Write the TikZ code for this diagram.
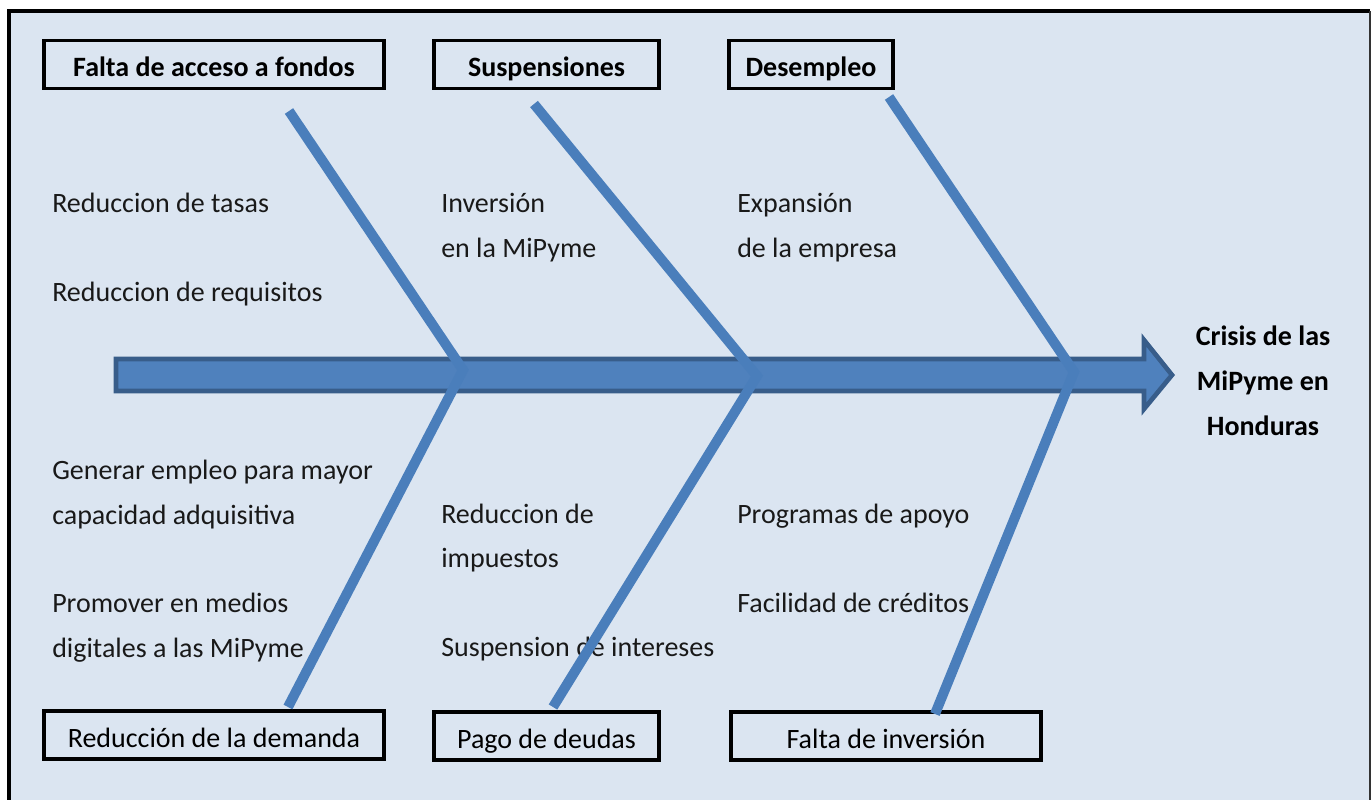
\documentclass[tikz,border=0pt]{standalone}
\usepackage{fontspec}
\setmainfont{Carlito}
\definecolor{bgblue}{HTML}{DBE5F1}
\definecolor{spinefill}{HTML}{4F81BD}
\definecolor{spineline}{HTML}{385D8A}
\definecolor{bonecol}{HTML}{4A7EBB}
\begin{document}
\begin{tikzpicture}[x=0.75pt,y=-0.75pt,
  lbl/.style={anchor=base west,inner sep=0pt,font=\fontsize{21}{24}\selectfont,text=black!90},
  catbox/.style={draw=black,line width=2.6pt,minimum height=36pt,inner sep=0pt,text height=18.5pt,text depth=0pt,font=\fontsize{21}{24}\selectfont},
  bone/.style={draw=bonecol,line width=7.5pt},
  spinestyle/.style={draw=spineline,fill=spinefill,line width=3.5pt,line join=miter}]
\useasboundingbox (0,0) rectangle (1372,800);
\fill[white] (0,0) rectangle (1372,800);
\fill[bgblue] (9,11) rectangle (1370,806);
\draw[black,line width=2.3pt] (9,806) -- (9,11) -- (1370,11);
\draw[black!80,line width=1.2pt] (1370,11) -- (1370,806);

% category boxes
\node[catbox,minimum width=255pt,font=\fontsize{21}{24}\selectfont\bfseries] (c1) at (214,64.5) {Falta de acceso a fondos};
\node[catbox,minimum width=168.75pt,font=\fontsize{21}{24}\selectfont\bfseries] (c2) at (546.5,64.5) {Suspensiones};
\node[catbox,minimum width=123pt,font=\fontsize{21}{24}\selectfont\bfseries] (c3) at (811,64.5) {Desempleo};
\node[catbox,minimum width=255pt] (c4) at (214,735) {Reducción de la demanda};
\node[catbox,minimum width=168.75pt] (c5) at (546.5,736) {Pago de deudas};
\node[catbox,minimum width=232.5pt] (c6) at (886,736) {Falta de inversión};

% labels
\node[lbl] (t1) at (52,212) {Reduccion de tasas};
\node[lbl] (t2) at (52,301) {Reduccion de requisitos};
\node[lbl] (t3) at (441,212) {Inversión};
\node[lbl] (t4) at (441,257) {en la MiPyme};
\node[lbl] (t5) at (737,212) {Expansión};
\node[lbl] (t6) at (737,257) {de la empresa};
\node[lbl] (t7) at (52,479) {Generar empleo para mayor};
\node[lbl] (t8) at (52,524) {capacidad adquisitiva};
\node[lbl] (t9) at (52,612) {Promover en medios};
\node[lbl] (t10) at (52,657) {digitales a las MiPyme};
\node[lbl] (t11) at (441,523) {Reduccion de};
\node[lbl] (t12) at (441,567) {impuestos};
\node[lbl] (t13) at (441,656) {Suspension de intereses};
\node[lbl] (t14) at (737,523) {Programas de apoyo};
\node[lbl] (t15) at (737,612) {Facilidad de créditos};

\node[align=center,inner sep=0pt,font=\fontsize{21}{33.75}\selectfont\bfseries] (effect) at (1263,381) {Crisis de las\\MiPyme en\\Honduras};

% spine
\coordinate (tail) at (116,375);
\coordinate (head) at (1172,375);
\draw[spinestyle] (116,359) -- (1144,359) -- (1144,340) -- (1172,375) -- (1144,409) -- (1144,391) -- (116,391) -- cycle;

% bone coordinates
\coordinate (j1) at (463,370);
\coordinate (j2) at (757,376);
\coordinate (j3) at (1074,372);
\coordinate (u1) at (289,111);
\coordinate (u2) at (534,104);
\coordinate (u3) at (889,97);
\coordinate (d1) at (288,707);
\coordinate (d2) at (553,707);
\coordinate (d3) at (935,714);

\draw[bone,line join=miter] (u1) -- (j1) -- (d1);
\draw[bone,line join=miter] (u2) -- (j2) -- (d2);
\draw[bone,line join=miter] (u3) -- (j3) -- (d3);
\end{tikzpicture}
\end{document}
